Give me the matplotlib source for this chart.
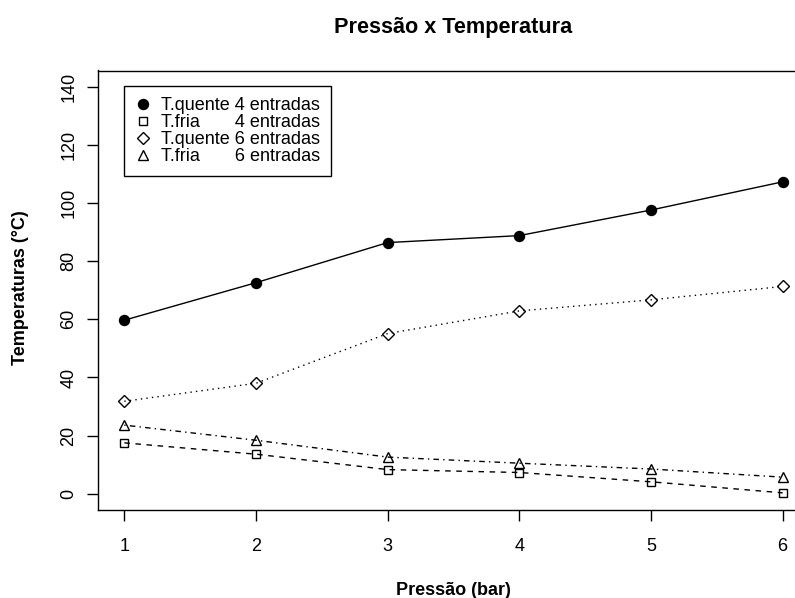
import matplotlib
matplotlib.use('Agg')
import matplotlib.pyplot as plt
from matplotlib.lines import Line2D

# dados
pressao = [1, 2, 3, 4, 5, 6]
t_quente_4 = [59.7, 72.6, 86.4, 88.8, 97.6, 107.3]
t_fria_4 = [17.5, 13.6, 8.3, 7.3, 4.1, 0.3]
t_quente_6 = [31.8, 38.0, 55.1, 62.9, 66.7, 71.3]
t_fria_6 = [23.6, 18.4, 12.6, 10.5, 8.5, 5.7]

rotulos = ['T.quente 4 entradas',
           'T.fria       4 entradas',
           'T.quente 6 entradas',
           'T.fria       6 entradas']
y_ticks = [0, 20, 40, 60, 80, 100, 120, 140]

plt.rcParams['font.family'] = ['Liberation Sans', 'DejaVu Sans']
fs = 12.96  # 18 px

W, H = 795, 598
fig = plt.figure(figsize=(W / 100, H / 100), dpi=100)
# regiao do grafico em pixels: x 98..809, y 70.5..510 (lado direito cortado como no original)
ax = fig.add_axes([98 / W, (H - 510) / H, (809 - 98) / W, (510 - 70.5) / H])

lw = 1.0
estilos = [
    (t_quente_4, dict(linestyle='-', marker='o', ms=7.2, mfc='black')),
    (t_fria_4, dict(linestyle=(0, (4, 4)), marker='s', ms=5.4, mfc='none')),
    (t_quente_6, dict(linestyle=(0, (1, 3)), marker='D', ms=6.0, mfc='none')),
    (t_fria_6, dict(linestyle=(0, (1, 3, 4, 3)), marker='^', ms=7.2, mfc='none')),
]
handles = []
for serie, st in estilos:
    ax.plot(pressao, serie, color='black', lw=lw, mec='black', mew=1.0, **st)
    handles.append(Line2D([], [], color='black', linestyle='none', marker=st['marker'],
                          ms=st['ms'], mfc=st['mfc'], mec='black', mew=1.0))

ax.set_xlim(0.8, 6.2)
ax.set_ylim(-5.6, 145.6)
ax.set_xticks(pressao)
ax.set_yticks(y_ticks)
ax.tick_params(direction='out', length=7.9, width=1.0, labelsize=fs, colors='black')
ax.tick_params(axis='x', pad=12.5)
ax.tick_params(axis='y', pad=7, labelrotation=90)
for lab in ax.get_yticklabels():
    lab.set_va('center')
for sp in ax.spines.values():
    sp.set_linewidth(1.0)

leg = ax.legend(handles, rotulos, loc='upper left', bbox_to_anchor=((124 - 98) / 711, (510 - 86) / 439.5),
                borderaxespad=0, fontsize=fs, frameon=True, fancybox=False, framealpha=1,
                edgecolor='black', borderpad=0.6, handlelength=0.91, handletextpad=0.54,
                labelspacing=0.0)
leg.get_frame().set_linewidth(1.0)

fig.text(453.5 / W, 1 - 27 / H, 'Pressão x Temperatura', ha='center', va='center',
         fontsize=15.55, fontweight='bold')
fig.text(453.5 / W, (H - 595) / H, 'Pressão (bar)', ha='center', va='baseline',
         fontsize=fs, fontweight='bold')
fig.text(21 / W, 1 - 288 / H, 'Temperaturas (°C)', ha='center', va='center', rotation=90,
         fontsize=fs, fontweight='bold')

fig.savefig('out.png', dpi=100)
